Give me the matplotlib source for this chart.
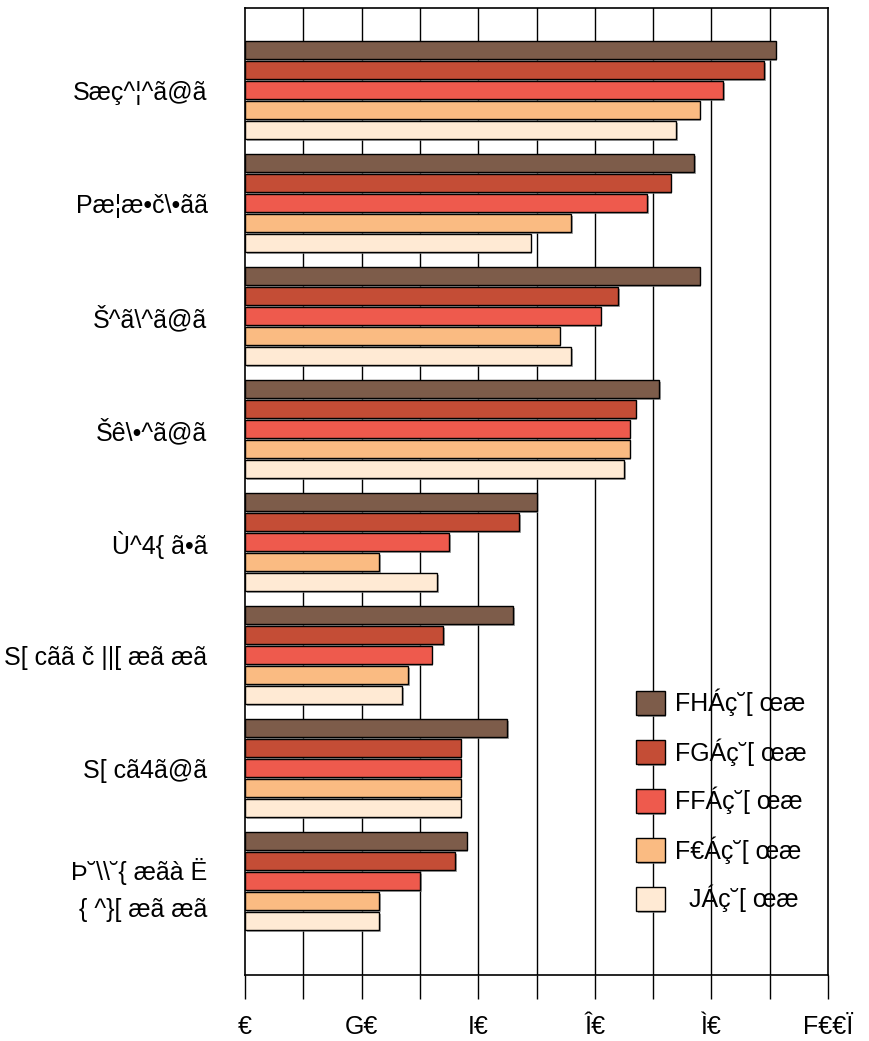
import matplotlib
matplotlib.use("Agg")
import matplotlib.pyplot as plt
import matplotlib.patheffects as pe
import numpy as np

plt.rcParams["font.family"] = ["Liberation Sans", "DejaVu Sans"]
plt.rcParams["font.size"] = 18

# category labels (as shown in the reference)
categories = ["Sæç^¦^ã@ã", "Pæ¦æ•č\\•ãã", "Š^ã\\^ã@ã", "Šê\\•^ã@ã",
              "Ù^4{ ã•ã", "S[ cãã č ||[ æã æã", "S[ cã4ã@ã",
              "Þ˘\\\\˘{ æãà Ë\n{ ^}[ æã æã"]
series_names = ["FHÁç˘[ œæ", "FGÁç˘[ œæ", "FFÁç˘[ œæ", "F€Áç˘[ œæ", "  JÁç˘[ œæ"]
colors = ["#7D5C4A", "#C44D36", "#EE5A4D", "#FABB82", "#FFEAD4"]

s13 = [91, 77, 78, 71, 50, 46, 45, 38]
s12 = [89, 73, 64, 67, 47, 34, 37, 36]
s11 = [82, 69, 61, 66, 35, 32, 37, 30]
s10 = [78, 56, 54, 66, 23, 28, 37, 23]
s9 = [74, 49, 56, 65, 33, 27, 37, 23]
series = [s13, s12, s11, s10, s9]

tick_vals = [0, 20, 40, 60, 80, 100]
tick_labels = ["€", "G€", "I€", "Î€", "Ì€", "F€€Ï"]

fig = plt.figure(figsize=(8.69, 10.41), dpi=100)
ax = fig.add_axes([245/869, 66/1041, 583/869, 967/1041])

y = np.arange(len(categories))
pitch = 20/113
h = 18/113
shadow = [pe.SimplePatchShadow(offset=(1.2, -1.2), shadow_rgbFace="gray", alpha=0.7), pe.Normal()]
for j, (vals, c, name) in enumerate(zip(series, colors, series_names)):
    bars = ax.barh(y + (j - 2)*pitch, vals, height=h, color=c, edgecolor="black",
                   linewidth=1, label=name, zorder=3)
    for b in bars:
        b.set_path_effects(shadow)

ax.set_xlim(0, 100)
ax.set_ylim(7.83, -0.726)
ax.set_xticks(tick_vals)
ax.set_xticklabels(tick_labels)
ax.set_xticks(np.arange(0, 101, 10), minor=True)
ax.tick_params(axis="x", which="both", direction="out", length=17, width=1, pad=12, colors="black")
ax.set_yticks(y)
ax.set_yticklabels(categories, linespacing=1.7, ha="right")
ax.tick_params(axis="y", length=0, pad=27)
for v in range(10, 100, 10):
    ax.axvline(v, color="black", linewidth=1, zorder=1)
for s in ax.spines.values():
    s.set_linewidth(1.2)

ax.legend(loc="upper left", bbox_to_anchor=(636/869, 1 - 689/1041), bbox_transform=fig.transFigure,
          frameon=False, handlelength=1.15, handleheight=1.15, labelspacing=0.86, handletextpad=0.4,
          borderaxespad=0, borderpad=0)

fig.savefig("out.png", dpi=100)
